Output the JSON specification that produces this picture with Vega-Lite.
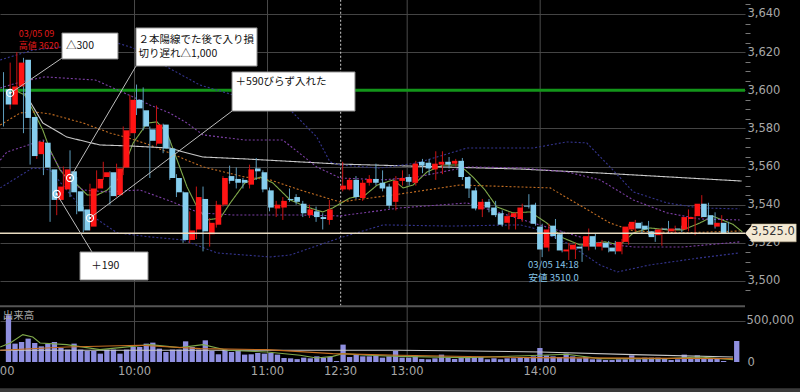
{
"$schema": "https://vega.github.io/schema/vega-lite/v6.json",
"width": 745,
"height": 362,
"autosize": {"type": "none"},
"padding": {"left": 0, "top": 0, "right": 55, "bottom": 30},
"background": "#000000",
"config": {"view": {"stroke": null}, "font": "DejaVu Sans"},
"datasets": {
"bars": [
{"i":0,"t":"9:00","o":3600.5,"h":3609.5,"l":3581,"c":3592.5,"v":570000},
{"i":1,"t":"9:03","o":3592.5,"h":3614.5,"l":3590,"c":3602,"v":224000},
{"i":2,"t":"9:06","o":3602,"h":3620,"l":3600,"c":3614.5,"v":244000},
{"i":3,"t":"9:09","o":3616,"h":3617,"l":3577.5,"c":3585.5,"v":285000},
{"i":4,"t":"9:12","o":3586,"h":3587,"l":3561,"c":3565.5,"v":232000},
{"i":5,"t":"9:15","o":3566.5,"h":3578.5,"l":3564,"c":3573,"v":191000},
{"i":6,"t":"9:18","o":3572.5,"h":3573.5,"l":3555.5,"c":3559.5,"v":224000},
{"i":7,"t":"9:21","o":3558.5,"h":3559.5,"l":3531,"c":3542.5,"v":244000},
{"i":8,"t":"9:24","o":3542.5,"h":3551.5,"l":3534.5,"c":3549.5,"v":171000},
{"i":9,"t":"9:27","o":3548,"h":3560,"l":3546,"c":3558.5,"v":151000},
{"i":10,"t":"9:30","o":3557.5,"h":3568.5,"l":3544,"c":3546.5,"v":224000},
{"i":11,"t":"9:33","o":3547,"h":3554.5,"l":3535,"c":3536.5,"v":151000},
{"i":12,"t":"9:36","o":3537.5,"h":3539,"l":3525.5,"c":3526.5,"v":134000},
{"i":13,"t":"9:39","o":3528.5,"h":3551,"l":3526.5,"c":3548.5,"v":134000},
{"i":14,"t":"9:42","o":3548.5,"h":3558,"l":3547,"c":3553.5,"v":102000},
{"i":15,"t":"9:45","o":3554.5,"h":3562.5,"l":3553,"c":3557,"v":151000},
{"i":16,"t":"9:48","o":3557,"h":3557.5,"l":3540,"c":3544.5,"v":151000},
{"i":17,"t":"9:51","o":3545,"h":3561.5,"l":3544,"c":3559,"v":102000},
{"i":18,"t":"9:54","o":3559.5,"h":3581,"l":3555.5,"c":3579,"v":151000},
{"i":19,"t":"9:57","o":3577.5,"h":3597.5,"l":3576,"c":3595,"v":183000},
{"i":20,"t":"10:00","o":3595,"h":3603,"l":3587,"c":3590.5,"v":183000},
{"i":21,"t":"10:03","o":3589.5,"h":3601.5,"l":3579,"c":3581,"v":224000},
{"i":22,"t":"10:06","o":3579.5,"h":3581,"l":3554,"c":3573.5,"v":236000},
{"i":23,"t":"10:09","o":3572,"h":3592,"l":3571,"c":3582,"v":163000},
{"i":24,"t":"10:12","o":3582,"h":3582.5,"l":3567,"c":3569.5,"v":122000},
{"i":25,"t":"10:15","o":3569.5,"h":3574,"l":3553,"c":3554,"v":151000},
{"i":26,"t":"10:18","o":3554,"h":3556,"l":3544,"c":3546.5,"v":151000},
{"i":27,"t":"10:21","o":3546.5,"h":3547,"l":3520,"c":3521.5,"v":252000},
{"i":28,"t":"10:24","o":3521.5,"h":3536.5,"l":3520,"c":3526.5,"v":183000},
{"i":29,"t":"10:27","o":3527,"h":3549.5,"l":3522,"c":3544,"v":151000},
{"i":30,"t":"10:30","o":3543,"h":3549.5,"l":3515.5,"c":3526,"v":264000},
{"i":31,"t":"10:33","o":3524.5,"h":3533,"l":3518,"c":3530.5,"v":134000},
{"i":32,"t":"10:36","o":3529.5,"h":3542,"l":3528,"c":3540,"v":94000},
{"i":33,"t":"10:39","o":3540,"h":3555,"l":3539,"c":3554,"v":151000},
{"i":34,"t":"10:42","o":3555,"h":3560.5,"l":3551,"c":3552.5,"v":122000},
{"i":35,"t":"10:45","o":3553.5,"h":3559.5,"l":3548.5,"c":3551.5,"v":142000},
{"i":36,"t":"10:48","o":3553,"h":3554,"l":3548.5,"c":3551.5,"v":90000},
{"i":37,"t":"10:51","o":3550.5,"h":3561,"l":3548.5,"c":3558.5,"v":94000},
{"i":38,"t":"10:54","o":3559,"h":3564.5,"l":3553,"c":3557.5,"v":110000},
{"i":39,"t":"10:57","o":3557,"h":3558,"l":3546.5,"c":3548,"v":102000},
{"i":40,"t":"11:00","o":3547.5,"h":3549,"l":3536.5,"c":3538.5,"v":110000},
{"i":41,"t":"11:03","o":3538,"h":3542,"l":3533.5,"c":3540,"v":90000},
{"i":42,"t":"11:06","o":3538.5,"h":3544,"l":3532,"c":3542,"v":49000},
{"i":43,"t":"11:09","o":3543,"h":3548.5,"l":3541.5,"c":3542.5,"v":45000},
{"i":44,"t":"11:12","o":3544,"h":3545.5,"l":3540,"c":3541.5,"v":35000},
{"i":45,"t":"11:15","o":3540.5,"h":3542,"l":3533.5,"c":3535.5,"v":53000},
{"i":46,"t":"11:18","o":3534.5,"h":3540,"l":3533,"c":3537.5,"v":45000},
{"i":47,"t":"11:21","o":3536.5,"h":3539,"l":3531,"c":3533.5,"v":69000},
{"i":48,"t":"11:24","o":3533.5,"h":3535.5,"l":3527,"c":3532.5,"v":53000},
{"i":49,"t":"11:27","o":3532,"h":3542.5,"l":3529.5,"c":3537.5,"v":61000},
{"i":50,"t":"11:30","o":null,"h":null,"l":null,"c":null,"v":12000},
{"i":51,"t":"12:30","o":3548,"h":3562.5,"l":3547,"c":3550,"v":212000},
{"i":52,"t":"12:33","o":3548,"h":3554,"l":3547.5,"c":3553,"v":61000},
{"i":53,"t":"12:36","o":3553,"h":3555,"l":3543,"c":3544,"v":90000},
{"i":54,"t":"12:39","o":3543.5,"h":3553,"l":3542,"c":3551.5,"v":69000},
{"i":55,"t":"12:42","o":3551.5,"h":3555.5,"l":3550,"c":3553.5,"v":69000},
{"i":56,"t":"12:45","o":3553.5,"h":3561.5,"l":3550,"c":3551.5,"v":81000},
{"i":57,"t":"12:48","o":3551.5,"h":3558,"l":3547,"c":3548.5,"v":53000},
{"i":58,"t":"12:51","o":3549.5,"h":3551,"l":3538,"c":3539.5,"v":69000},
{"i":59,"t":"12:54","o":3541.5,"h":3555,"l":3537,"c":3552.5,"v":134000},
{"i":60,"t":"12:57","o":3552.5,"h":3558,"l":3550,"c":3554,"v":53000},
{"i":61,"t":"13:00","o":3554.5,"h":3556,"l":3550,"c":3552,"v":53000},
{"i":62,"t":"13:03","o":3551.5,"h":3563,"l":3550,"c":3561.5,"v":81000},
{"i":63,"t":"13:06","o":3562.5,"h":3564,"l":3556.5,"c":3560.5,"v":37000},
{"i":64,"t":"13:09","o":3562,"h":3564,"l":3555.5,"c":3559,"v":33000},
{"i":65,"t":"13:12","o":3558.5,"h":3568,"l":3553,"c":3561.5,"v":45000},
{"i":66,"t":"13:15","o":3561,"h":3568,"l":3556,"c":3562.5,"v":90000},
{"i":67,"t":"13:18","o":3562.5,"h":3565,"l":3559,"c":3561,"v":53000},
{"i":68,"t":"13:21","o":3561.5,"h":3564,"l":3560,"c":3563,"v":37000},
{"i":69,"t":"13:24","o":3563,"h":3564.5,"l":3553,"c":3554.5,"v":61000},
{"i":70,"t":"13:27","o":3554.5,"h":3555,"l":3543.5,"c":3548.5,"v":61000},
{"i":71,"t":"13:30","o":3547.5,"h":3549,"l":3537,"c":3538,"v":61000},
{"i":72,"t":"13:33","o":3537.5,"h":3543,"l":3533.5,"c":3541.5,"v":61000},
{"i":73,"t":"13:36","o":3541.5,"h":3543,"l":3536,"c":3538.5,"v":33000},
{"i":74,"t":"13:39","o":3538.5,"h":3542,"l":3533.5,"c":3534.5,"v":45000},
{"i":75,"t":"13:42","o":3535.5,"h":3537,"l":3528.5,"c":3529.5,"v":33000},
{"i":76,"t":"13:45","o":3530.5,"h":3536,"l":3527,"c":3534,"v":45000},
{"i":77,"t":"13:48","o":3533.5,"h":3536,"l":3527,"c":3535.5,"v":45000},
{"i":78,"t":"13:51","o":3532.5,"h":3540.5,"l":3531,"c":3538.5,"v":53000},
{"i":79,"t":"13:54","o":3539.5,"h":3545.5,"l":3538,"c":3539,"v":53000},
{"i":80,"t":"13:57","o":3540,"h":3541,"l":3529,"c":3530,"v":69000},
{"i":81,"t":"14:00","o":3528.5,"h":3530,"l":3512.5,"c":3516.5,"v":171000},
{"i":82,"t":"14:03","o":3517.5,"h":3530,"l":3515.5,"c":3527,"v":81000},
{"i":83,"t":"14:06","o":3529,"h":3532.5,"l":3522,"c":3523.5,"v":69000},
{"i":84,"t":"14:09","o":3524.5,"h":3526,"l":3515,"c":3516,"v":61000},
{"i":85,"t":"14:12","o":3515.5,"h":3520,"l":3511,"c":3516.5,"v":102000},
{"i":86,"t":"14:15","o":3516.5,"h":3520,"l":3511.5,"c":3519,"v":69000},
{"i":87,"t":"14:18","o":3518,"h":3519,"l":3510,"c":3517,"v":45000},
{"i":88,"t":"14:21","o":3518,"h":3527.5,"l":3516,"c":3523.5,"v":61000},
{"i":89,"t":"14:24","o":3523.5,"h":3525,"l":3516.5,"c":3518,"v":33000},
{"i":90,"t":"14:27","o":3518,"h":3521.5,"l":3516,"c":3520,"v":33000},
{"i":91,"t":"14:30","o":3520,"h":3521,"l":3515,"c":3517.5,"v":24000},
{"i":92,"t":"14:33","o":3517.5,"h":3521,"l":3514,"c":3515.5,"v":24000},
{"i":93,"t":"14:36","o":3515.5,"h":3522,"l":3514,"c":3520.5,"v":33000},
{"i":94,"t":"14:39","o":3520.5,"h":3530,"l":3519,"c":3528.5,"v":33000},
{"i":95,"t":"14:42","o":3527,"h":3532,"l":3526,"c":3531,"v":81000},
{"i":96,"t":"14:45","o":3530.5,"h":3531,"l":3525,"c":3527.5,"v":33000},
{"i":97,"t":"14:48","o":3529,"h":3531.5,"l":3524,"c":3527,"v":53000},
{"i":98,"t":"14:51","o":3526,"h":3527,"l":3520.5,"c":3523,"v":53000},
{"i":99,"t":"14:54","o":3524,"h":3528,"l":3518.5,"c":3527,"v":53000},
{"i":100,"t":"14:57","o":3527.5,"h":3531.5,"l":3525,"c":3527,"v":45000},
{"i":101,"t":"15:00","o":3526,"h":3529,"l":3525,"c":3527.5,"v":24000},
{"i":102,"t":"15:03","o":3527.5,"h":3529,"l":3525.5,"c":3527,"v":33000},
{"i":103,"t":"15:06","o":3527,"h":3537.5,"l":3526,"c":3533.5,"v":90000},
{"i":104,"t":"15:09","o":3532.5,"h":3535,"l":3524,"c":3533.5,"v":45000},
{"i":105,"t":"15:12","o":3534,"h":3545,"l":3533,"c":3540.5,"v":81000},
{"i":106,"t":"15:15","o":3540.5,"h":3541,"l":3532,"c":3533.5,"v":45000},
{"i":107,"t":"15:18","o":3534.5,"h":3536,"l":3527.5,"c":3529.5,"v":45000},
{"i":108,"t":"15:21","o":3528.5,"h":3534.5,"l":3528,"c":3530.5,"v":45000},
{"i":109,"t":"15:24","o":3530.5,"h":3531,"l":3525,"c":3525,"v":12000},
{"i":110,"t":"15:27","o":null,"h":null,"l":null,"c":null,"v":null},
{"i":111,"t":"15:30","o":null,"h":null,"l":null,"c":null,"v":256000}
],
"ind": [
{"s":"ma_short","i":1.6,"p":3600.2},{"s":"ma_short","i":3.2,"p":3597.5},{"s":"ma_short","i":4.4,"p":3589.7},{"s":"ma_short","i":5.9,"p":3579.2},{"s":"ma_short","i":7.0,"p":3568.7},{"s":"ma_short","i":8.5,"p":3558.2},{"s":"ma_short","i":9.5,"p":3554.0},{"s":"ma_short","i":11.1,"p":3550.3},{"s":"ma_short","i":12.6,"p":3545.1},{"s":"ma_short","i":14.1,"p":3545.1},{"s":"ma_short","i":15.6,"p":3547.7},{"s":"ma_short","i":17.5,"p":3554.5},{"s":"ma_short","i":19.5,"p":3572.4},{"s":"ma_short","i":21.6,"p":3582.8},{"s":"ma_short","i":23.1,"p":3583.4},{"s":"ma_short","i":24.6,"p":3577.6},{"s":"ma_short","i":26.1,"p":3563.5},{"s":"ma_short","i":27.6,"p":3549.3},{"s":"ma_short","i":29.1,"p":3538.8},{"s":"ma_short","i":30.6,"p":3532.0},{"s":"ma_short","i":32.6,"p":3533.0},{"s":"ma_short","i":34.1,"p":3540.9},{"s":"ma_short","i":36.3,"p":3551.4},{"s":"ma_short","i":38.6,"p":3554.5},{"s":"ma_short","i":40.5,"p":3551.4},{"s":"ma_short","i":43.1,"p":3542.5},{"s":"ma_short","i":45.6,"p":3538.8},{"s":"ma_short","i":48.0,"p":3536.2},{"s":"ma_short","i":49.5,"p":3538.3},{"s":"ma_short","i":52.1,"p":3543.5},{"s":"ma_short","i":54.4,"p":3545.1},{"s":"ma_short","i":56.2,"p":3550.3},{"s":"ma_short","i":58.6,"p":3553.0},{"s":"ma_short","i":60.1,"p":3548.8},{"s":"ma_short","i":61.6,"p":3550.3},{"s":"ma_short","i":63.7,"p":3557.2},{"s":"ma_short","i":66.1,"p":3560.8},{"s":"ma_short","i":68.6,"p":3560.8},{"s":"ma_short","i":70.6,"p":3554.5},{"s":"ma_short","i":72.4,"p":3547.7},{"s":"ma_short","i":74.2,"p":3538.8},{"s":"ma_short","i":76.6,"p":3535.7},{"s":"ma_short","i":79.2,"p":3536.2},{"s":"ma_short","i":81.7,"p":3530.4},{"s":"ma_short","i":84.1,"p":3522.6},{"s":"ma_short","i":86.7,"p":3518.9},{"s":"ma_short","i":90.4,"p":3520.5},{"s":"ma_short","i":92.7,"p":3518.9},{"s":"ma_short","i":94.7,"p":3525.2},{"s":"ma_short","i":97.2,"p":3527.8},{"s":"ma_short","i":99.8,"p":3526.8},{"s":"ma_short","i":102.2,"p":3526.8},{"s":"ma_short","i":104.7,"p":3530.4},{"s":"ma_short","i":106.7,"p":3533.9},{"s":"ma_short","i":109.7,"p":3529.7},{"s":"ma_short","i":111.1,"p":3525.7},
{"s":"ma_mid","i":-0.5,"p":3581.8},{"s":"ma_mid","i":2.5,"p":3588.1},{"s":"ma_mid","i":4.7,"p":3588.6},{"s":"ma_mid","i":7.0,"p":3587.6},{"s":"ma_mid","i":12.0,"p":3582.8},{"s":"ma_mid","i":16.0,"p":3577.6},{"s":"ma_mid","i":18.3,"p":3575.5},{"s":"ma_mid","i":21.6,"p":3571.8},{"s":"ma_mid","i":25.0,"p":3567.1},{"s":"ma_mid","i":30.0,"p":3559.8},{"s":"ma_mid","i":36.3,"p":3554.5},{"s":"ma_mid","i":40.1,"p":3553.0},{"s":"ma_mid","i":44.6,"p":3547.7},{"s":"ma_mid","i":50.6,"p":3541.4},{"s":"ma_mid","i":59.6,"p":3545.6},{"s":"ma_mid","i":68.6,"p":3550.3},{"s":"ma_mid","i":77.7,"p":3549.3},{"s":"ma_mid","i":82.2,"p":3548.8},{"s":"ma_mid","i":87.1,"p":3538.8},{"s":"ma_mid","i":91.2,"p":3530.4},{"s":"ma_mid","i":94.7,"p":3526.2},{"s":"ma_mid","i":102.2,"p":3525.2},{"s":"ma_mid","i":110.7,"p":3526.2},
{"s":"ma_long","i":3.2,"p":3598.6},{"s":"ma_long","i":5.9,"p":3582.9},{"s":"ma_long","i":9.5,"p":3575.5},{"s":"ma_long","i":14.5,"p":3571.3},{"s":"ma_long","i":19.0,"p":3570.8},{"s":"ma_long","i":25.0,"p":3569.7},{"s":"ma_long","i":27.6,"p":3567.1},{"s":"ma_long","i":30.0,"p":3565.0},{"s":"ma_long","i":36.3,"p":3564.0},{"s":"ma_long","i":50.6,"p":3561.3},{"s":"ma_long","i":60.7,"p":3560.3},{"s":"ma_long","i":77.7,"p":3558.7},{"s":"ma_long","i":89.7,"p":3556.6},{"s":"ma_long","i":111.0,"p":3552.4},
{"s":"bb1_up","i":-0.5,"p":3601.2},{"s":"bb1_up","i":2.5,"p":3604.3},{"s":"bb1_up","i":6.2,"p":3607.0},{"s":"bb1_up","i":13.8,"p":3605.4},{"s":"bb1_up","i":19.5,"p":3596.5},{"s":"bb1_up","i":22.0,"p":3592.3},{"s":"bb1_up","i":25.0,"p":3588.1},{"s":"bb1_up","i":27.6,"p":3582.8},{"s":"bb1_up","i":30.0,"p":3576.6},{"s":"bb1_up","i":36.3,"p":3573.9},{"s":"bb1_up","i":42.0,"p":3573.9},{"s":"bb1_up","i":47.1,"p":3559.8},{"s":"bb1_up","i":50.6,"p":3554.0},{"s":"bb1_up","i":57.1,"p":3553.0},{"s":"bb1_up","i":62.2,"p":3554.5},{"s":"bb1_up","i":69.7,"p":3559.8},{"s":"bb1_up","i":77.7,"p":3559.3},{"s":"bb1_up","i":84.7,"p":3557.2},{"s":"bb1_up","i":89.7,"p":3553.0},{"s":"bb1_up","i":94.7,"p":3542.5},{"s":"bb1_up","i":99.8,"p":3535.7},{"s":"bb1_up","i":104.7,"p":3532.5},{"s":"bb1_up","i":110.7,"p":3532.0},
{"s":"bb1_lo","i":-0.5,"p":3563.4},{"s":"bb1_lo","i":0.5,"p":3567.6},{"s":"bb1_lo","i":6.0,"p":3573.9},{"s":"bb1_lo","i":9.5,"p":3553.0},{"s":"bb1_lo","i":12.0,"p":3547.7},{"s":"bb1_lo","i":15.6,"p":3546.7},{"s":"bb1_lo","i":20.5,"p":3547.7},{"s":"bb1_lo","i":24.6,"p":3542.5},{"s":"bb1_lo","i":29.5,"p":3535.7},{"s":"bb1_lo","i":34.5,"p":3534.6},{"s":"bb1_lo","i":40.1,"p":3534.6},{"s":"bb1_lo","i":44.6,"p":3534.6},{"s":"bb1_lo","i":50.6,"p":3534.1},{"s":"bb1_lo","i":59.6,"p":3538.3},{"s":"bb1_lo","i":69.7,"p":3540.9},{"s":"bb1_lo","i":74.7,"p":3535.7},{"s":"bb1_lo","i":79.6,"p":3530.4},{"s":"bb1_lo","i":84.7,"p":3525.2},{"s":"bb1_lo","i":89.7,"p":3519.9},{"s":"bb1_lo","i":94.7,"p":3517.8},{"s":"bb1_lo","i":102.2,"p":3517.8},{"s":"bb1_lo","i":110.7,"p":3520.5},
{"s":"bb2_up","i":-0.5,"p":3615.9},{"s":"bb2_up","i":4.4,"p":3621.1},{"s":"bb2_up","i":11.5,"p":3623.7},{"s":"bb2_up","i":17.1,"p":3624.8},{"s":"bb2_up","i":19.5,"p":3622.2},{"s":"bb2_up","i":24.6,"p":3612.2},{"s":"bb2_up","i":29.5,"p":3602.8},{"s":"bb2_up","i":37.1,"p":3594.9},{"s":"bb2_up","i":43.1,"p":3589.7},{"s":"bb2_up","i":47.1,"p":3575.5},{"s":"bb2_up","i":49.1,"p":3562.4},{"s":"bb2_up","i":50.6,"p":3560.8},{"s":"bb2_up","i":56.6,"p":3559.2},{"s":"bb2_up","i":62.2,"p":3561.9},{"s":"bb2_up","i":69.7,"p":3569.7},{"s":"bb2_up","i":77.7,"p":3569.7},{"s":"bb2_up","i":79.6,"p":3569.7},{"s":"bb2_up","i":84.7,"p":3572.9},{"s":"bb2_up","i":87.7,"p":3572.4},{"s":"bb2_up","i":91.2,"p":3559.8},{"s":"bb2_up","i":94.7,"p":3546.7},{"s":"bb2_up","i":99.8,"p":3540.9},{"s":"bb2_up","i":104.7,"p":3538.3},{"s":"bb2_up","i":110.7,"p":3537.8},
{"s":"bb2_lo","i":-0.5,"p":3548.8},{"s":"bb2_lo","i":4.4,"p":3559.3},{"s":"bb2_lo","i":7.0,"p":3558.2},{"s":"bb2_lo","i":12.0,"p":3537.2},{"s":"bb2_lo","i":17.1,"p":3525.2},{"s":"bb2_lo","i":22.0,"p":3523.1},{"s":"bb2_lo","i":27.0,"p":3521.5},{"s":"bb2_lo","i":32.1,"p":3514.7},{"s":"bb2_lo","i":40.1,"p":3512.6},{"s":"bb2_lo","i":43.1,"p":3513.6},{"s":"bb2_lo","i":50.6,"p":3522.6},{"s":"bb2_lo","i":57.1,"p":3529.4},{"s":"bb2_lo","i":67.1,"p":3528.8},{"s":"bb2_lo","i":77.7,"p":3529.4},{"s":"bb2_lo","i":79.6,"p":3527.8},{"s":"bb2_lo","i":84.7,"p":3519.9},{"s":"bb2_lo","i":89.7,"p":3508.4},{"s":"bb2_lo","i":92.3,"p":3504.7},{"s":"bb2_lo","i":97.2,"p":3508.4},{"s":"bb2_lo","i":104.7,"p":3512.1},{"s":"bb2_lo","i":110.7,"p":3514.7}
],
"vind": [
{"s":"vma_long","i":-0.5,"v":143000},{"s":"vma_long","i":59.6,"v":143000},{"s":"vma_long","i":70,"v":135000},{"s":"vma_long","i":80.7,"v":122000},{"s":"vma_long","i":94.7,"v":90000},{"s":"vma_long","i":109.7,"v":61000},
{"s":"vma_short","i":-0.5,"v":183000},{"s":"vma_short","i":1.0,"v":232000},{"s":"vma_short","i":2.9,"v":334000},{"s":"vma_short","i":4.4,"v":305000},{"s":"vma_short","i":5.5,"v":232000},{"s":"vma_short","i":9.5,"v":212000},{"s":"vma_short","i":14.5,"v":151000},{"s":"vma_short","i":22.0,"v":212000},{"s":"vma_short","i":26.5,"v":175000},{"s":"vma_short","i":30.0,"v":212000},{"s":"vma_short","i":33.6,"v":143000},{"s":"vma_short","i":39.6,"v":122000},{"s":"vma_short","i":44.6,"v":82000},{"s":"vma_short","i":47.1,"v":49000},{"s":"vma_short","i":49.5,"v":69000},{"s":"vma_short","i":51.0,"v":102000},{"s":"vma_short","i":54.7,"v":82000},{"s":"vma_short","i":59.6,"v":69000},{"s":"vma_short","i":69.7,"v":53000},{"s":"vma_short","i":80.7,"v":82000},{"s":"vma_short","i":84.7,"v":94000},{"s":"vma_short","i":89.7,"v":41000},{"s":"vma_short","i":99.8,"v":41000},{"s":"vma_short","i":104.7,"v":61000},{"s":"vma_short","i":109.7,"v":29000},
{"s":"vma_mid","i":-0.5,"v":143000},{"s":"vma_mid","i":9.5,"v":183000},{"s":"vma_mid","i":20.5,"v":204000},{"s":"vma_mid","i":29.6,"v":163000},{"s":"vma_mid","i":39.6,"v":151000},{"s":"vma_mid","i":49.5,"v":102000},{"s":"vma_mid","i":59.6,"v":82000},{"s":"vma_mid","i":79.6,"v":53000},{"s":"vma_mid","i":109.7,"v":41000}
],
"hours": [{"i":20},{"i":40},{"i":61},{"i":81}]
},
"layer": [
{"data": {"name": "bars"}, "mark": {"type": "point", "opacity": 0, "size": 1},
 "encoding": {"x": {"field": "t", "type": "ordinal", "sort": null, "scale": {"type": "point", "padding": 0.53, "range": [-2.5, 742.5]},
   "axis": {"orient": "bottom", "title": null, "values": ["9:00", "10:00", "11:00", "12:30", "13:00", "14:00"],
    "grid": false, "domain": false, "ticks": false, "labelPadding": 3, "labelColor": "#a8a8a8", "labelFontSize": 11.5, "labelFont": "DejaVu Sans", "labelAngle": 0}}}},
{"data": {"name": "hours"}, "mark": {"type": "rule", "color": "#4a4a4a", "strokeWidth": 1, "xOffset": -2},
 "encoding": {"x": {"field": "i", "type": "quantitative", "scale": {"domain": [-0.53, 111.5], "nice": false, "zero": false}, "axis": null}}},
{"data": {"values": [{}]}, "mark": {"type": "rule", "color": "#cfcfcf", "strokeWidth": 1, "strokeDash": [2, 2], "xOffset": -2},
 "encoding": {"x": {"datum": 51, "type": "quantitative", "scale": {"domain": [-0.53, 111.5], "nice": false, "zero": false}, "axis": null},
  "y": {"datum": 3487, "type": "quantitative", "scale": {"domain": [3457.5, 3647.34], "nice": false, "zero": false}, "axis": null},
  "y2": {"datum": 3647.34}}},
{"data": {"values": [{}]}, "mark": {"type": "rule", "color": "#13951a", "strokeWidth": 3},
 "encoding": {"y": {"datum": 3600, "type": "quantitative", "scale": {"domain": [3457.5, 3647.34], "nice": false, "zero": false},
   "axis": {"orient": "right", "title": null, "domain": false, "labels": false, "grid": false, "ticks": true, "tickSize": 5, "tickColor": "#777777",
    "values": [3495,3505,3510,3515,3525,3530,3535,3545,3550,3555,3565,3570,3575,3585,3590,3595,3605,3610,3615,3625,3630,3635,3645]}}}},
{"data": {"name": "ind"}, "mark": {"type": "line", "strokeWidth": 1.1},
 "encoding": {"x": {"field": "i", "type": "quantitative", "scale": {"domain": [-0.53, 111.5], "nice": false, "zero": false}, "axis": null},
  "y": {"field": "p", "type": "quantitative", "scale": {"domain": [3457.5, 3647.34], "nice": false, "zero": false}, "axis": null},
  "color": {"field": "s", "type": "nominal", "legend": null, "scale": {"domain": ["ma_short", "ma_mid", "ma_long", "bb1_up", "bb1_lo", "bb2_up", "bb2_lo"], "range": ["#7fa84a", "#c46e22", "#c8c8c8", "#7d3fa6", "#7d3fa6", "#34348e", "#34348e"]}},
  "strokeDash": {"field": "s", "type": "nominal", "legend": null, "scale": {"domain": ["ma_short", "ma_mid", "ma_long", "bb1_up", "bb1_lo", "bb2_up", "bb2_lo"], "range": [[1, 0], [2, 2], [1, 0], [2, 2], [2, 2], [2, 2], [2, 2]]}},
  "order": {"field": "i", "type": "quantitative"}}},
{"data": {"name": "bars"}, "mark": {"type": "rule", "strokeWidth": 1},
 "encoding": {"x": {"field": "i", "type": "quantitative", "scale": {"domain": [-0.53, 111.5], "nice": false, "zero": false}, "axis": null},
  "y": {"field": "l", "type": "quantitative", "scale": {"domain": [3457.5, 3647.34], "nice": false, "zero": false},
   "axis": {"orient": "right", "title": null, "domain": false, "ticks": false,
    "values": [3500, 3520, 3540, 3560, 3580, 3600, 3620, 3640], "format": ",d",
    "labelColor": "#a8a8a8", "labelFontSize": 11.5, "labelFont": "DejaVu Sans", "labelPadding": 2, "labelBaseline": "middle",
    "grid": true, "gridColor": "#444444", "gridWidth": 1}},
  "y2": {"field": "h"},
  "color": {"condition": {"test": "datum.c >= datum.o", "value": "#c81414"}, "value": "#5d9cbc"}}},
{"data": {"name": "bars"}, "mark": {"type": "bar", "width": 5.6},
 "encoding": {"x": {"field": "i", "type": "quantitative", "scale": {"domain": [-0.53, 111.5], "nice": false, "zero": false}, "axis": null},
  "y": {"field": "o", "type": "quantitative", "scale": {"domain": [3457.5, 3647.34], "nice": false, "zero": false}, "axis": null},
  "y2": {"field": "c"},
  "color": {"condition": {"test": "datum.c >= datum.o", "value": "#ff1414"}, "value": "#86ceee"}}},
{"data": {"values": [{}]}, "mark": {"type": "rule", "color": "#e9dcc2", "strokeWidth": 1.5},
 "encoding": {"y": {"datum": 3525, "type": "quantitative", "scale": {"domain": [3457.5, 3647.34], "nice": false, "zero": false}, "axis": null}}},
{"data": {"values": [
  {"x1": 8.79, "y1": 3616.9, "x2": 1.1, "y2": 3598.6},
  {"x1": 19.92, "y1": 3612.7, "x2": 10, "y2": 3554.0},
  {"x1": 34.36, "y1": 3589.1, "x2": 13, "y2": 3533.0},
  {"x1": 13.3, "y1": 3515.2, "x2": 8, "y2": 3545.6}]},
 "mark": {"type": "rule", "color": "#bdbdbd", "strokeWidth": 1},
 "encoding": {"x": {"field": "x1", "type": "quantitative", "scale": {"domain": [-0.53, 111.5], "nice": false, "zero": false}, "axis": null},
  "y": {"field": "y1", "type": "quantitative", "scale": {"domain": [3457.5, 3647.34], "nice": false, "zero": false}, "axis": null},
  "x2": {"field": "x2"}, "y2": {"field": "y2"}}},
{"data": {"values": [{"i": 1, "p": 3598.6}, {"i": 10, "p": 3554.0}, {"i": 13, "p": 3533.0}, {"i": 8, "p": 3545.6}]},
 "mark": {"type": "point", "shape": "circle", "size": 50, "filled": false, "stroke": "#ffffff", "strokeWidth": 1.2, "opacity": 1},
 "encoding": {"x": {"field": "i", "type": "quantitative", "scale": {"domain": [-0.53, 111.5], "nice": false, "zero": false}, "axis": null},
  "y": {"field": "p", "type": "quantitative", "scale": {"domain": [3457.5, 3647.34], "nice": false, "zero": false}, "axis": null}}},
{"data": {"values": [{"i": 1, "p": 3598.6}, {"i": 10, "p": 3554.0}, {"i": 13, "p": 3533.0}, {"i": 8, "p": 3545.6}]},
 "mark": {"type": "point", "shape": "circle", "size": 5, "filled": true, "color": "#ffffff", "opacity": 1},
 "encoding": {"x": {"field": "i", "type": "quantitative", "scale": {"domain": [-0.53, 111.5], "nice": false, "zero": false}, "axis": null},
  "y": {"field": "p", "type": "quantitative", "scale": {"domain": [3457.5, 3647.34], "nice": false, "zero": false}, "axis": null}}},
{"data": {"values": [{"t": "03/05 09", "p": 3629.7}, {"t": "高値 3620", "p": 3623.3}]},
 "mark": {"type": "text", "align": "left", "baseline": "middle", "color": "#e01a1a", "fontSize": 9, "font": "Noto Sans CJK JP"},
 "encoding": {"x": {"datum": 2.3, "type": "quantitative", "scale": {"domain": [-0.53, 111.5], "nice": false, "zero": false}, "axis": null},
  "y": {"field": "p", "type": "quantitative", "scale": {"domain": [3457.5, 3647.34], "nice": false, "zero": false}, "axis": null},
  "text": {"field": "t"}}},
{"data": {"values": [{"t": "03/05 14:18", "p": 3508.3}, {"t": "安値 3510.0", "p": 3501.5}]},
 "mark": {"type": "text", "align": "right", "baseline": "middle", "color": "#86c5e8", "fontSize": 9.5, "font": "Noto Sans CJK JP"},
 "encoding": {"x": {"datum": 86.5, "type": "quantitative", "scale": {"domain": [-0.53, 111.5], "nice": false, "zero": false}, "axis": null},
  "y": {"field": "p", "type": "quantitative", "scale": {"domain": [3457.5, 3647.34], "nice": false, "zero": false}, "axis": null},
  "text": {"field": "t"}}},
{"data": {"values": [
  {"a": 8.79, "b": 17.21, "lo": 3616.4, "hi": 3630.0},
  {"a": 19.92, "b": 38.12, "lo": 3612.7, "hi": 3632.7},
  {"a": 34.36, "b": 52.85, "lo": 3589.1, "hi": 3609.6},
  {"a": 11.5, "b": 21.73, "lo": 3500.5, "hi": 3515.2}]},
 "mark": {"type": "rect", "fill": "#ffffff", "stroke": "#8a8a8a", "strokeWidth": 1},
 "encoding": {"x": {"field": "a", "type": "quantitative", "scale": {"domain": [-0.53, 111.5], "nice": false, "zero": false}, "axis": null},
  "x2": {"field": "b"},
  "y": {"field": "lo", "type": "quantitative", "scale": {"domain": [3457.5, 3647.34], "nice": false, "zero": false}, "axis": null},
  "y2": {"field": "hi"}}},
{"data": {"values": [
  {"t": "△300", "i": 9.4, "p": 3623.2},
  {"t": "２本陽線でた後で入り損", "i": 20.3, "p": 3626.4},
  {"t": "切り遅れ△1,000", "i": 20.3, "p": 3619.2},
  {"t": "＋590びらず入れた", "i": 34.9, "p": 3604.4},
  {"t": "＋190", "i": 13.2, "p": 3507.9}]},
 "mark": {"type": "text", "align": "left", "baseline": "middle", "color": "#111111", "fontSize": 10.5, "font": "Noto Sans CJK JP"},
 "encoding": {"x": {"field": "i", "type": "quantitative", "scale": {"domain": [-0.53, 111.5], "nice": false, "zero": false}, "axis": null},
  "y": {"field": "p", "type": "quantitative", "scale": {"domain": [3457.5, 3647.34], "nice": false, "zero": false}, "axis": null},
  "text": {"field": "t"}}},
{"data": {"values": [{}]}, "mark": {"type": "rect", "fill": "#f3e9d3", "stroke": "#bfb08e", "strokeWidth": 0.5},
 "encoding": {"x": {"datum": 112.5, "type": "quantitative", "scale": {"domain": [-0.53, 111.5], "nice": false, "zero": false}, "axis": null},
  "x2": {"datum": 119.2},
  "y": {"datum": 3520.5, "type": "quantitative", "scale": {"domain": [3457.5, 3647.34], "nice": false, "zero": false}, "axis": null},
  "y2": {"datum": 3529.9}}},
{"data": {"values": [{}]}, "mark": {"type": "point", "shape": "M -0.4 0 L 0.45 -1 L 0.45 1 Z", "size": 324, "filled": true, "color": "#f3e9d3", "opacity": 1},
 "encoding": {"x": {"datum": 112.05, "type": "quantitative", "scale": {"domain": [-0.53, 111.5], "nice": false, "zero": false}, "axis": null},
  "y": {"datum": 3525, "type": "quantitative", "scale": {"domain": [3457.5, 3647.34], "nice": false, "zero": false}, "axis": null}}},
{"data": {"values": [{"t": "3,525.0"}]}, "mark": {"type": "text", "align": "center", "baseline": "middle", "color": "#333333", "fontSize": 11.5, "font": "DejaVu Sans", "dy": -1.5},
 "encoding": {"x": {"datum": 115.7, "type": "quantitative", "scale": {"domain": [-0.53, 111.5], "nice": false, "zero": false}, "axis": null},
  "y": {"datum": 3525, "type": "quantitative", "scale": {"domain": [3457.5, 3647.34], "nice": false, "zero": false}, "axis": null},
  "text": {"field": "t"}}},
{"data": {"name": "bars"}, "mark": {"type": "bar", "width": 5.3, "color": "#8f8fe0"},
 "encoding": {"x": {"field": "i", "type": "quantitative", "scale": {"domain": [-0.53, 111.5], "nice": false, "zero": false}, "axis": null},
  "y": {"field": "v", "type": "quantitative", "scale": {"domain": [0, 4414000], "nice": false},
   "axis": {"orient": "right", "title": null, "values": [500000], "format": ",d", "domain": false, "ticks": false,
    "labelPadding": 1, "labelColor": "#a8a8a8", "labelFontSize": 11.5, "labelFont": "DejaVu Sans", "labelBaseline": "middle",
    "grid": true, "gridColor": "#444444"}}}},
{"data": {"name": "vind"}, "mark": {"type": "line", "strokeWidth": 1.1},
 "encoding": {"x": {"field": "i", "type": "quantitative", "scale": {"domain": [-0.53, 111.5], "nice": false, "zero": false}, "axis": null},
  "y": {"field": "v", "type": "quantitative", "scale": {"domain": [0, 4414000], "nice": false},
   "axis": {"orient": "right", "title": null, "values": [0], "format": ",d", "domain": false, "ticks": false, "grid": false,
    "labelPadding": 2, "labelColor": "#a8a8a8", "labelFontSize": 11.5, "labelFont": "DejaVu Sans", "labelBaseline": "middle"}},
  "color": {"field": "s", "type": "nominal", "legend": null, "scale": {"domain": ["vma_short", "vma_mid", "vma_long"], "range": ["#6cb84a", "#d98a30", "#4f4fff"]}},
  "order": {"field": "i", "type": "quantitative"}}},
{"data": {"values": [{}]}, "mark": {"type": "rule", "color": "#555555", "strokeWidth": 2},
 "encoding": {"y": {"datum": 680000, "type": "quantitative", "scale": {"domain": [0, 4414000], "nice": false}, "axis": null}}},
{"data": {"values": [{}]}, "mark": {"type": "rect", "color": "#3a3a3a"},
 "encoding": {"x": {"datum": -2, "type": "quantitative", "scale": {"domain": [-0.53, 111.5], "nice": false, "zero": false}, "axis": null},
  "x2": {"datum": 125},
  "y": {"datum": -320000, "type": "quantitative", "scale": {"domain": [0, 4414000], "nice": false}, "axis": null},
  "y2": {"datum": -420000}}},
{"data": {"values": [{"t": "出来高"}]}, "mark": {"type": "text", "align": "left", "baseline": "middle", "color": "#a8a8a8", "fontSize": 10.5, "font": "Noto Sans CJK JP"},
 "encoding": {"x": {"datum": -0.1, "type": "quantitative", "scale": {"domain": [-0.53, 111.5], "nice": false, "zero": false}, "axis": null},
  "y": {"datum": 557000, "type": "quantitative", "scale": {"domain": [0, 4414000], "nice": false}, "axis": null},
  "text": {"field": "t"}}}
],
"resolve": {"scale": {"x": "independent", "y": "independent"}}
}
